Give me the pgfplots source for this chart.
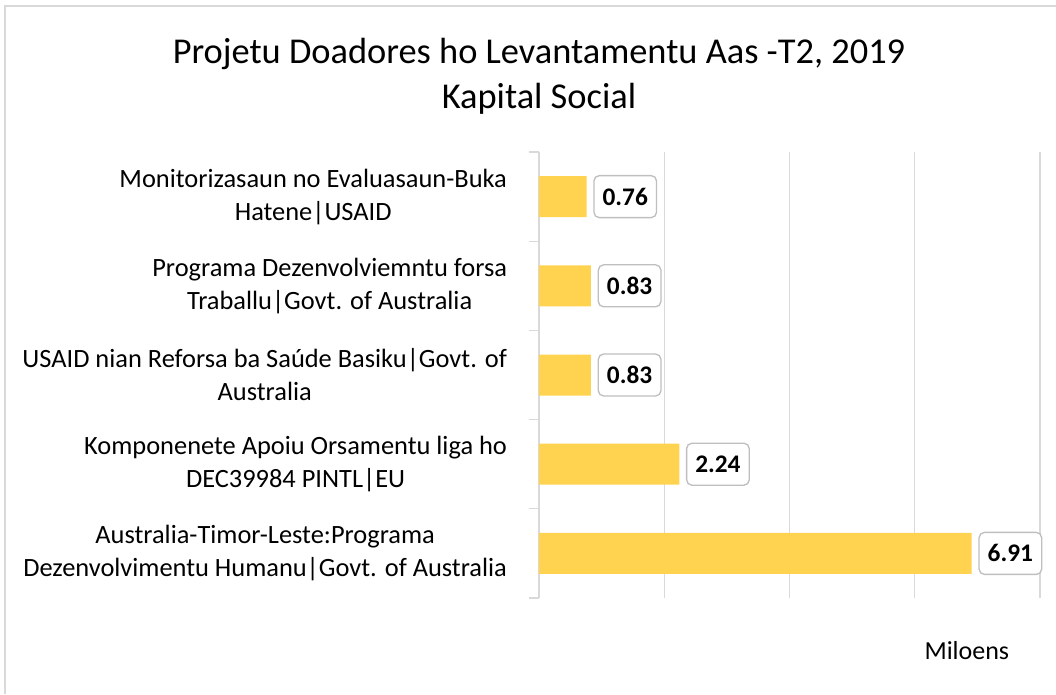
\documentclass[border=0pt]{standalone}
\usepackage{fontspec}
\setmainfont{Carlito}
\usepackage{pgfplots}
\pgfplotsset{compat=1.18}
\definecolor{BarGold}{HTML}{FFD24F}
\definecolor{GridGrey}{HTML}{D9D9D9}
\definecolor{BoxGrey}{HTML}{BFBFBF}

\begin{document}
\begin{tikzpicture}
% picture size: 1056x694 px at 0.75pt per px
\path[use as bounding box] (0,0) rectangle (792pt,-520.5pt);
\draw[GridGrey, line width=1.5pt] (3.75pt,-520.5pt) -- (3.75pt,-4.5pt) -- (792pt,-4.5pt);
\begin{axis}[
    at={(404.25pt,-448.5pt)}, anchor=south west,
    scale only axis,
    width=375.75pt, height=334.5pt,
    xbar, bar width=30.75pt,
    xmin=0, xmax=8,
    ymin=-0.5, ymax=4.5,
    xtick={0,2,4,6,8}, xticklabels={},
    ytick={0,1,2,3,4},
    minor ytick={-0.5,0.5,1.5,2.5,3.5,4.5},
    major tick length=0pt,
    minor tick length=7.5pt,
    tick align=outside,
    tick style={GridGrey, line width=0.9pt},
    axis lines*=left,
    separate axis lines,
    x axis line style={draw=none},
    y axis line style={draw=GridGrey, line width=0.9pt},
    xmajorgrids,
    major grid style={GridGrey, line width=0.9pt},
    yticklabels={
        {Australia-Timor-Leste:Programa\\Dezenvolvimentu Humanu|Govt. of Australia},
        {Komponenete Apoiu Orsamentu liga ho\\DEC39984 PINTL|EU},
        {USAID nian Reforsa ba Saúde Basiku|Govt. of\\Australia},
        {Programa Dezenvolviemntu forsa\\Traballu|Govt. of Australia},
        {Monitorizasaun no Evaluasaun-Buka\\Hatene|USAID}},
    yticklabel style={align=center, font=\fontsize{19.8}{24.75}\selectfont, xshift=-20.5pt},
    title={Projetu Doadores ho Levantamentu Aas -T2, 2019\\Kapital Social},
    title style={at={(axis description cs:0.0,1.151)}, anchor=center, align=center,
        font=\fontsize{27.3}{33.75}\selectfont},
    xlabel={Miloens},
    xlabel style={at={(axis description cs:0.854,-0.117)}, anchor=center,
        font=\fontsize{19.5}{24}\selectfont},
    nodes near coords,
    nodes near coords style={anchor=west, xshift=5pt, fill=white, draw=BoxGrey,
        line width=1pt, rounded corners=4pt, inner xsep=6.5pt, minimum height=31.5pt,
        font=\fontsize{19}{22}\selectfont\bfseries,
        /pgf/number format/.cd, fixed, fixed zerofill, precision=2, assume math mode=true},
    clip=false,
]
\addplot[fill=BarGold, draw=none] coordinates {
    (6.91,0) (2.24,1) (0.83,2) (0.83,3) (0.76,4)
};
\end{axis}
\end{tikzpicture}
\end{document}
